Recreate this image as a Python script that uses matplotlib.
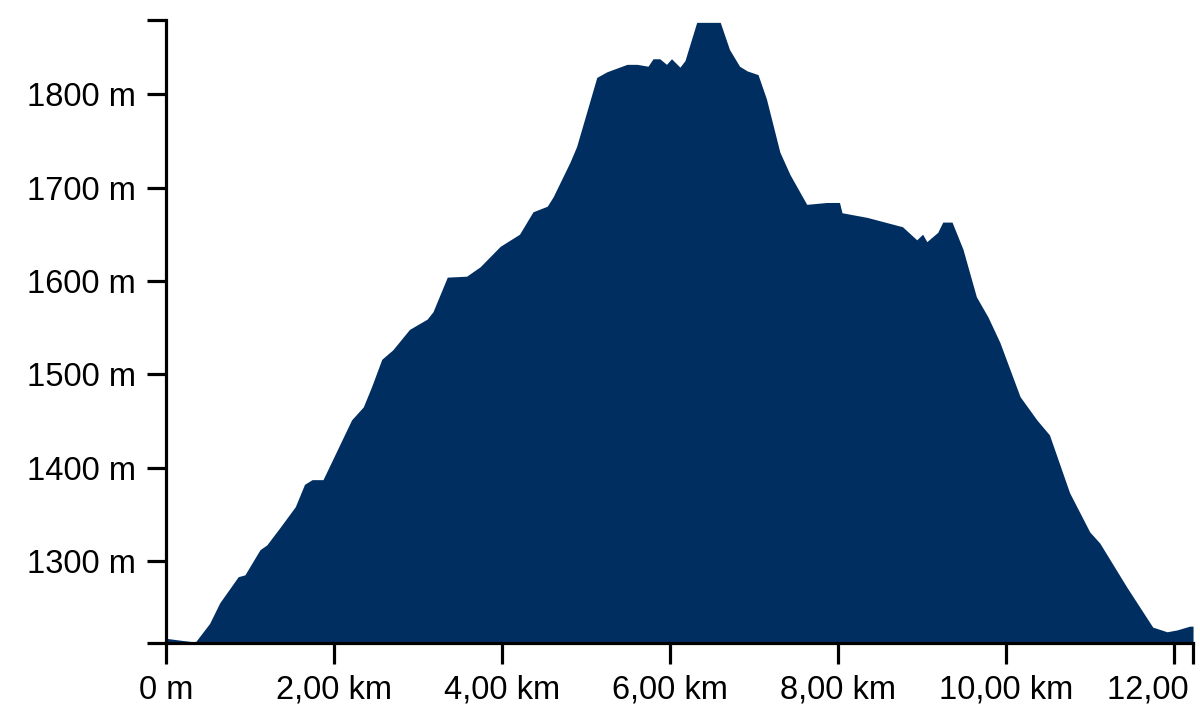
import matplotlib
matplotlib.use('Agg')
import matplotlib.pyplot as plt

plt.rcParams['font.family'] = ['Liberation Sans', 'DejaVu Sans']

# distance (km) and elevation (m)
dist_km = [0.00, 0.17, 0.35, 0.52, 0.64, 0.86, 0.94, 1.12, 1.20, 1.36, 1.54, 1.65, 1.74, 1.87,
           2.04, 2.21, 2.35, 2.45, 2.57, 2.70, 2.90, 3.11, 3.18, 3.35, 3.58, 3.74, 3.98,
           4.21, 4.37, 4.54, 4.61, 4.81, 4.89, 5.01, 5.13, 5.25, 5.49, 5.61, 5.74, 5.80,
           5.88, 5.96, 6.02, 6.12, 6.18, 6.32, 6.60, 6.71, 6.83, 6.92, 7.05, 7.15, 7.31,
           7.43, 7.63, 7.87, 8.02, 8.05, 8.35, 8.77, 8.94, 9.01, 9.06, 9.19, 9.25, 9.36,
           9.49, 9.65, 9.79, 9.93, 10.17, 10.37, 10.52, 10.76, 11.00, 11.12, 11.44, 11.75,
           11.92, 12.04, 12.19, 12.23]
elev_m = [1217, 1215, 1213, 1233, 1255, 1283, 1285, 1312, 1317, 1336, 1358, 1382, 1387, 1387,
          1419, 1451, 1465, 1487, 1516, 1526, 1548, 1559, 1567, 1604, 1605, 1615, 1637,
          1650, 1674, 1680, 1690, 1727, 1744, 1781, 1818, 1824, 1832, 1832, 1830, 1838,
          1838, 1832, 1838, 1829, 1836, 1877, 1877, 1848, 1830, 1825, 1821, 1795, 1738,
          1714, 1682, 1684, 1684, 1673, 1668, 1658, 1644, 1650, 1642, 1652, 1663, 1663,
          1634, 1583, 1561, 1534, 1476, 1451, 1435, 1373, 1331, 1319, 1272, 1229,
          1224, 1226, 1230, 1230]

x_ticks = [0, 2, 4, 6, 8, 10, 12]
x_labels = ['0 m', '2,00 km', '4,00 km', '6,00 km', '8,00 km', '10,00 km', '12,00 km']
y_ticks = [1300, 1400, 1500, 1600, 1700, 1800]
y_labels = ['1300 m', '1400 m', '1500 m', '1600 m', '1700 m', '1800 m']

x_min, x_max = 0, 12.23
y_min, y_max = 1212.3, 1879.5

fig = plt.figure(figsize=(12, 7.1), dpi=100)
ax = fig.add_axes([0.1383, 0.0948, 0.9942 - 0.1383, 0.9718 - 0.0948])

ax.fill_between(dist_km, elev_m, y_min, color='#012e61', linewidth=0)

ax.set_xlim(x_min, x_max)
ax.set_ylim(y_min, y_max)

ax.set_xticks(x_ticks)
ax.set_xticklabels(x_labels)
ax.set_yticks(y_ticks)
ax.set_yticklabels(y_labels)
# end ticks of the axis domain
ax.set_xticks([x_max], minor=True)
ax.set_yticks([y_min, y_max], minor=True)

for s in ['top', 'right']:
    ax.spines[s].set_visible(False)
for s in ['left', 'bottom']:
    ax.spines[s].set_linewidth(2.3)
    ax.spines[s].set_color('black')

ax.tick_params(which='both', direction='out', width=2.3, color='black', labelsize=23.5)
ax.tick_params(axis='x', which='both', length=15, pad=8)
ax.tick_params(axis='y', which='both', length=14, pad=7.5)

fig.savefig('out.png', dpi=100)
